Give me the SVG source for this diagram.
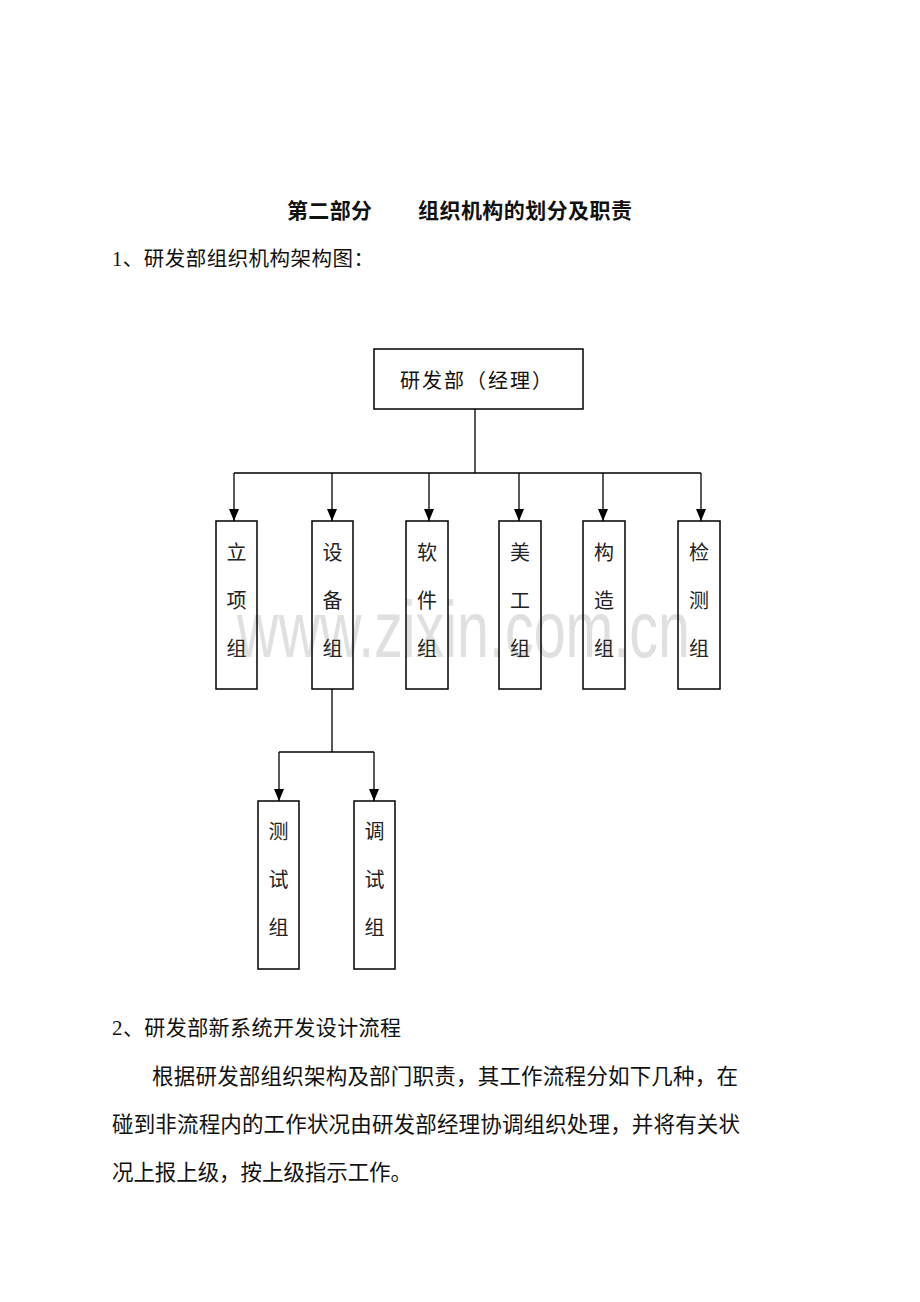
<svg xmlns="http://www.w3.org/2000/svg" width="920" height="1302" viewBox="0 0 920 1302">
<style>
.t{font-family:"Liberation Serif","Noto Sans CJK SC",serif;fill:#111;}
.b{fill:none;stroke:#000;stroke-width:1.5;}
.c{fill:none;stroke:#000;stroke-width:1.3;}
.v{font-family:"Liberation Serif","Noto Sans CJK SC",serif;font-size:20px;fill:#222;text-anchor:middle;}
.wm{font-family:"Liberation Sans",Arial,sans-serif;fill:#e0e0e0;}
</style>
<defs>
<marker id="ah" markerWidth="12" markerHeight="10" refX="12" refY="5" orient="auto" markerUnits="userSpaceOnUse" viewBox="0 0 12 10">
<path d="M0,0 L12,5 L0,10 Z" fill="#000"/>
</marker>
</defs>
<rect width="920" height="1302" fill="#fff"/>
<text class="wm" x="237" y="657" font-size="80" textLength="453" lengthAdjust="spacingAndGlyphs">www.zixin.com.cn</text>

<g id="title">
<text class="t" x="287" y="218" font-size="21" font-weight="bold" textLength="85">第二部分</text>
<text class="t" x="418" y="218" font-size="21" font-weight="bold" textLength="214">组织机构的划分及职责</text>
</g>
<text class="t" x="112" y="266" font-size="20.5" textLength="262">1、研发部组织机构架构图：</text>

<g id="connectors">
<path class="c" d="M475,409 V473 M234,473 H701"/>
<path class="c" d="M234,473 V521" marker-end="url(#ah)"/>
<path class="c" d="M332,473 V521" marker-end="url(#ah)"/>
<path class="c" d="M429,473 V521" marker-end="url(#ah)"/>
<path class="c" d="M519,473 V521" marker-end="url(#ah)"/>
<path class="c" d="M603,473 V521" marker-end="url(#ah)"/>
<path class="c" d="M701,473 V521" marker-end="url(#ah)"/>
<path class="c" d="M332,689 V752 M279,752 H374"/>
<path class="c" d="M279,752 V801" marker-end="url(#ah)"/>
<path class="c" d="M374,752 V801" marker-end="url(#ah)"/>
</g>

<g id="root">
<rect class="b" x="374" y="349" width="209" height="60"/>
<text class="t" x="400" y="388" font-size="20" textLength="152">研发部（经理）</text>
</g>

<g id="n1"><rect class="b" x="216" y="521" width="41" height="168"/>
<text class="v" x="236.5" y="560">立</text><text class="v" x="236.5" y="608">项</text><text class="v" x="236.5" y="656">组</text></g>
<g id="n2"><rect class="b" x="312" y="521" width="41" height="168"/>
<text class="v" x="332.5" y="560">设</text><text class="v" x="332.5" y="608">备</text><text class="v" x="332.5" y="656">组</text></g>
<g id="n3"><rect class="b" x="406" y="521" width="42" height="168"/>
<text class="v" x="427" y="560">软</text><text class="v" x="427" y="608">件</text><text class="v" x="427" y="656">组</text></g>
<g id="n4"><rect class="b" x="499" y="521" width="42" height="168"/>
<text class="v" x="520" y="560">美</text><text class="v" x="520" y="608">工</text><text class="v" x="520" y="656">组</text></g>
<g id="n5"><rect class="b" x="583" y="521" width="42" height="168"/>
<text class="v" x="604" y="560">构</text><text class="v" x="604" y="608">造</text><text class="v" x="604" y="656">组</text></g>
<g id="n6"><rect class="b" x="678" y="521" width="42" height="168"/>
<text class="v" x="699" y="560">检</text><text class="v" x="699" y="608">测</text><text class="v" x="699" y="656">组</text></g>

<g id="n7"><rect class="b" x="258" y="801" width="41" height="168"/>
<text class="v" x="278.5" y="839">测</text><text class="v" x="278.5" y="887">试</text><text class="v" x="278.5" y="935">组</text></g>
<g id="n8"><rect class="b" x="354" y="801" width="41" height="168"/>
<text class="v" x="374.5" y="839">调</text><text class="v" x="374.5" y="887">试</text><text class="v" x="374.5" y="935">组</text></g>

<g id="body">
<text class="t" x="112" y="1035" font-size="21" textLength="289">2、研发部新系统开发设计流程</text>
<text class="t" x="152" y="1084" font-size="21.5" textLength="586">根据研发部组织架构及部门职责，其工作流程分如下几种，在</text>
<text class="t" x="112" y="1132" font-size="21.5" textLength="628">碰到非流程内的工作状况由研发部经理协调组织处理，并将有关状</text>
<text class="t" x="112" y="1180" font-size="21.5" textLength="300">况上报上级，按上级指示工作。</text>
</g>
</svg>
